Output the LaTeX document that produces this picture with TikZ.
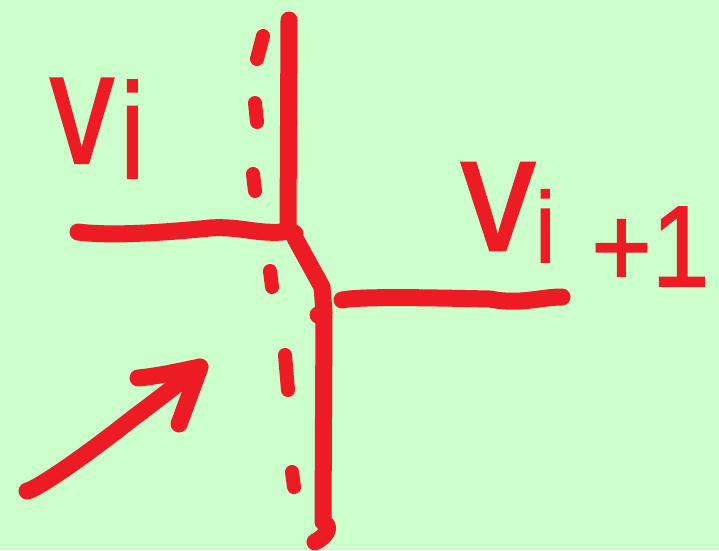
\documentclass[tikz,border=0pt]{standalone}
\usepackage{fontspec}
\setmainfont{Liberation Sans}
\newfontfamily\penfont[FakeBold=1.5]{Liberation Sans}
\definecolor{bg}{RGB}{204,255,204}
\definecolor{pen}{RGB}{237,28,36}
\begin{document}
\begin{tikzpicture}[x=1pt,y=-1pt,
  stroke/.style={draw=pen,line width=17pt,line cap=round,line join=round},
  dashstroke/.style={draw=pen,line width=14pt,line cap=round},
  lbl/.style={text=pen,inner sep=0pt,outer sep=0pt,anchor=base west,font=\penfont}]
\fill[bg] (0,0) rectangle (719,550);
\useasboundingbox (0,0) rectangle (719,550);
% named points
\coordinate (ntop) at (289,20);
\coordinate (njoin) at (288,230);
\coordinate (lstart) at (78,232);
\coordinate (bstart) at (295,238);
\coordinate (bknee) at (322,287);
\coordinate (bbot) at (323,522);
\coordinate (rstart) at (342,300);
\coordinate (rend) at (562,297);
\coordinate (atail) at (27,491);
\coordinate (atip) at (200,367);
% upper vertical
\draw[stroke] (ntop) -- (njoin);
% left horizontal
\draw[stroke] (lstart) .. controls (110,236) and (160,233) .. (210,228)
  .. controls (240,226) and (255,234) .. (283,232);
% bent line going down
\draw[stroke] (bstart) -- (bknee) -- (324,312) -- (bbot)
  .. controls (333,527) and (325,537) .. (315,542);
\fill[pen] (318,315) circle (8.5pt);
\fill[pen] (294,234) circle (9.5pt);
% right horizontal
\draw[stroke] (rstart) .. controls (360,296) and (440,298) .. (490,299)
  .. controls (520,305) and (540,297) .. (rend);
% dashes upper
\draw[dashstroke] (263,36) -- (257,59);
\draw[dashstroke] (255,103) -- (257,122);
\draw[dashstroke] (253,174) -- (255,191);
% dashes lower
\draw[dashstroke] (270,271) -- (272,287);
\draw[dashstroke] (285,355) -- (288,390);
\draw[dashstroke] (292,472) -- (294,487);
% arrow
\draw[stroke] (atail) .. controls (35,490) and (80,460) .. (133,418)
  .. controls (160,398) and (185,378) .. (atip);
\draw[stroke] (138,378) .. controls (160,376) and (185,370) .. (atip) -- (179,424);
% labels
\node[lbl,xscale=0.8] (vi) at (50,163)
  {\fontsize{160}{160}\selectfont v\hspace{8pt}\raisebox{-15pt}{\fontsize{135}{135}\selectfont i}};
\node[lbl,xscale=0.9] (vip) at (461,250)
  {\fontsize{165}{165}\selectfont v\raisebox{-12pt}{\fontsize{100}{100}\selectfont i}\hspace{40pt}\raisebox{-36pt}{\fontsize{115}{115}\selectfont +1}};
\end{tikzpicture}
\end{document}
